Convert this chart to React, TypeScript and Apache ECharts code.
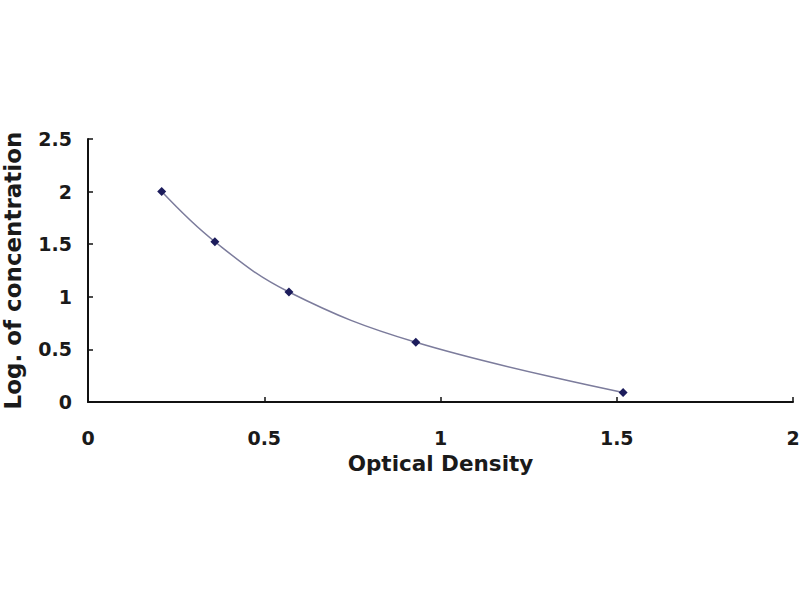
import React, { useEffect, useRef } from "react";
import * as echarts from "echarts";

const opticalDensity = [0.209, 0.36, 0.57, 0.93, 1.518];
const logConcentration = [2.0, 1.523, 1.046, 0.568, 0.091];
const xTicks = { min: 0, max: 2, interval: 0.5 };
const yTicks = { min: 0, max: 2.5, interval: 0.5 };
const xTitle = "Optical Density";
const yTitle = "Log. of concentration";

export default function App() {
  const ref = useRef<HTMLDivElement>(null);
  useEffect(() => {
    if (!ref.current) return;
    const chart = echarts.init(ref.current, undefined, { renderer: "svg" });
    const font = "DejaVu Sans";
    const axisCommon = {
      axisLine: { show: true, lineStyle: { color: "#111", width: 2 } },
      axisTick: { show: true, inside: true, length: 5, lineStyle: { color: "#111", width: 1.5 } },
      splitLine: { show: false },
      nameLocation: "middle" as const,
    };
    chart.setOption({
      animation: false,
      backgroundColor: "#ffffff",
      grid: { left: 88, right: 7, top: 139, bottom: 198, containLabel: false, outerBoundsMode: "none" },
      xAxis: {
        type: "value",
        ...axisCommon,
        min: xTicks.min,
        max: xTicks.max,
        interval: xTicks.interval,
        name: xTitle,
        nameGap: 50,
        nameTextStyle: { fontFamily: font, fontWeight: "bold", fontSize: 21.5, color: "#1a1a1a" },
        axisLabel: { fontFamily: font, fontWeight: "bold", fontSize: 19, color: "#1a1a1a", margin: 26 },
      },
      yAxis: {
        type: "value",
        ...axisCommon,
        min: yTicks.min,
        max: yTicks.max,
        interval: yTicks.interval,
        name: yTitle,
        nameGap: 64,
        nameTextStyle: { fontFamily: font, fontWeight: "bold", fontSize: 23, color: "#1a1a1a" },
        axisLabel: { fontFamily: font, fontWeight: "bold", fontSize: 19, color: "#1a1a1a", margin: 16 },
      },
      series: [
        {
          type: "line",
          data: opticalDensity.map((x, i) => [x, logConcentration[i]]),
          smooth: 0.4,
          symbol: "diamond",
          symbolSize: 9,
          showSymbol: true,
          lineStyle: { color: "#7c7c9c", width: 1.5 },
          itemStyle: { color: "#1c1c5c" },
        },
      ],
    });
    return () => chart.dispose();
  }, []);
  return (
    <div
      ref={ref}
      style={{ position: "fixed", left: 0, top: 0, width: 800, height: 600 }}
    />
  );
}
